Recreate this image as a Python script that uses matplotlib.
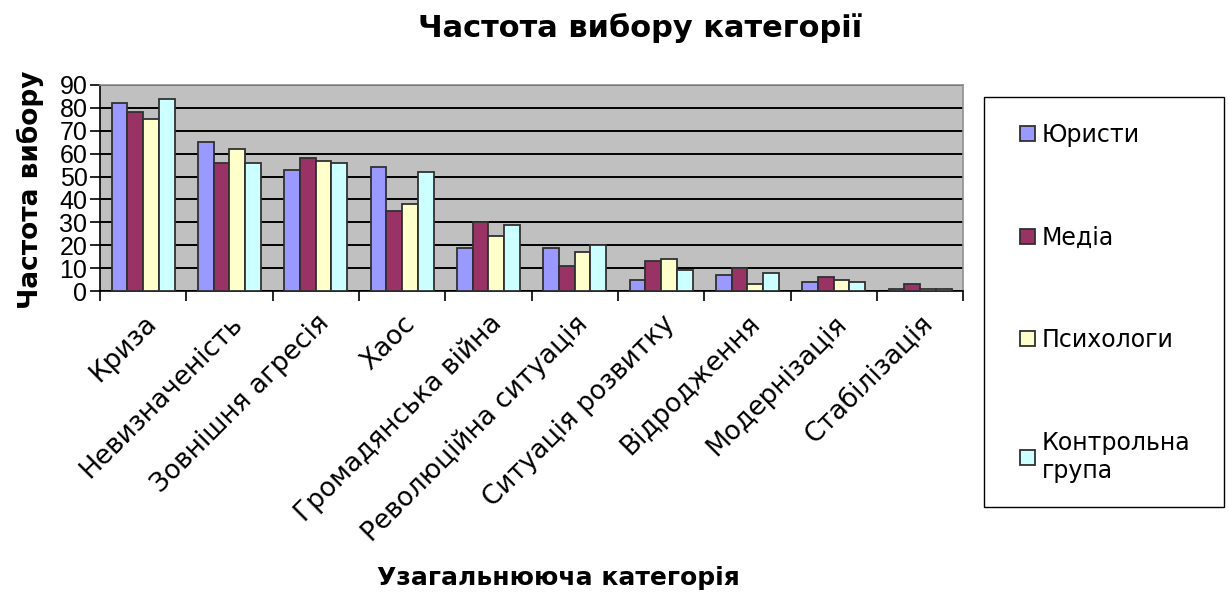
import numpy as np
import matplotlib.pyplot as plt
from matplotlib.ticker import MultipleLocator, FixedLocator
from matplotlib.patches import Rectangle

plt.rcParams['font.family'] = ['DejaVu Sans']

# categories and values
categories = ['Криза', 'Невизначеність', 'Зовнішня агресія', 'Хаос',
              'Громадянська війна', 'Революційна ситуація', 'Ситуація розвитку',
              'Відродження', 'Модернізація', 'Стабілізація']
yurysty = [82, 65, 53, 54, 19, 19, 5, 7, 4, 1]
media = [78, 56, 58, 35, 30, 11, 13, 10, 6, 3]
psykholohy = [75, 62, 57, 38, 24, 17, 14, 3, 5, 1]
kontrol = [84, 56, 56, 52, 29, 20, 9, 8, 4, 1]
series_names = ['Юристи', 'Медіа', 'Психологи', 'Контрольна\nгрупа']
colors = ['#9999FF', '#993366', '#FFFFCC', '#CCFFFF']

fig = plt.figure(figsize=(12.28, 5.94), dpi=100)
ax = fig.add_axes([0.0814, 0.510, 0.703, 0.347])
ax.set_facecolor('#C0C0C0')

x = np.arange(len(categories))
w = 0.182
for i, (vals, name, c) in enumerate(zip([yurysty, media, psykholohy, kontrol], series_names, colors)):
    ax.bar(x + (i - 1.5) * w, vals, w, color=c, edgecolor='#303030', linewidth=1.3,
           label=name, zorder=3)

ax.set_xlim(-0.5, len(categories) - 0.5)
ax.set_ylim(0, 90)
ax.yaxis.set_major_locator(MultipleLocator(10))
ax.grid(axis='y', color='black', linewidth=1.4, zorder=0)
ax.set_axisbelow(True)

ax.xaxis.set_major_locator(FixedLocator(np.arange(-0.5, len(categories), 1.0)))
ax.xaxis.set_minor_locator(FixedLocator(x))
ax.set_xticklabels([], minor=False)
ax.set_xticklabels(categories, minor=True, rotation=45, ha='right', va='top',
                   rotation_mode='anchor', fontsize=19)
ax.tick_params(axis='x', which='major', length=7, direction='out', width=1.2)
ax.tick_params(axis='x', which='minor', length=0, pad=14)
ax.tick_params(axis='y', length=7, direction='out', width=1.2, labelsize=18, pad=2)
for t in ax.get_yticklabels():
    t.set_fontfamily('Liberation Sans')

for s in ['left', 'bottom']:
    ax.spines[s].set_color('black')
    ax.spines[s].set_linewidth(1.2)
for s in ['top', 'right']:
    ax.spines[s].set_color('#909090')
    ax.spines[s].set_linewidth(1.2)

fig.text(0.521, 0.953, 'Частота вибору категорії', ha='center', va='center',
         fontsize=22, fontweight='bold')
fig.text(0.455, 0.027, 'Узагальнююча категорія', ha='center', va='center',
         fontsize=18, fontweight='bold')
fig.text(0.025, 0.68, 'Частота вибору', ha='center', va='center', rotation=90,
         fontsize=19, fontweight='bold')

# legend box drawn separately so its size matches the reference
fig.patches.append(Rectangle((0.801, 0.1465), 0.196, 0.690, transform=fig.transFigure,
                             facecolor='white', edgecolor='black', linewidth=1.0))
leg = fig.legend(loc='upper left', bbox_to_anchor=(0.831, 1 - 123 / 594), fontsize=17,
                 frameon=False, handlelength=0.6, handleheight=0.6, handletextpad=0.3,
                 labelspacing=3.33, borderpad=0, borderaxespad=0)

fig.savefig('out.png', dpi=100)
